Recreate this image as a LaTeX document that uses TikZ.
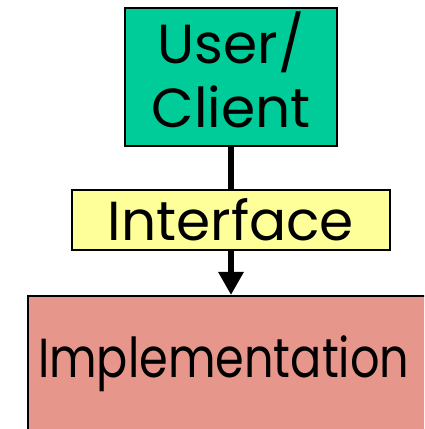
\documentclass[tikz,border=0pt]{standalone}
\usepackage{fontspec}
\setmainfont{Poppins}
\newfontfamily\implfont{Poppins}[FakeStretch=0.84]
\definecolor{UserFill}{RGB}{0,204,153}
\definecolor{InterfaceFill}{RGB}{255,255,153}
\definecolor{ImplFill}{RGB}{230,150,138}
\usetikzlibrary{arrows.meta, positioning}

\begin{document}
\begin{tikzpicture}[x=1pt, y=1pt,
    layerbox/.style={draw, line width=2pt, font=\fontsize{55}{64}\selectfont, inner sep=0pt, align=center}]

\clip (0, 0) rectangle (424, 429);
\useasboundingbox (0, 0) rectangle (424, 429);

\node[layerbox, fill=UserFill, minimum width=212pt, minimum height=138pt, text depth=14pt]
    (user) at (231, 352) {User/\\Client};
\node[layerbox, fill=InterfaceFill, minimum width=318pt, minimum height=60pt]
    (iface) at (231, 209) {Interface};
\node[layerbox, fill=ImplFill, anchor=north west, minimum height=136pt,
    text width=420pt, inner xsep=10pt, align=left]
    (impl) at (27, 134) {\implfont Implementation};

\draw[line width=6pt] (user) -- (iface);
\draw[line width=6pt, -{Triangle[length=23pt, width=24pt]}]
    (iface.south) -- (iface.south |- impl.north);

\end{tikzpicture}
\end{document}
